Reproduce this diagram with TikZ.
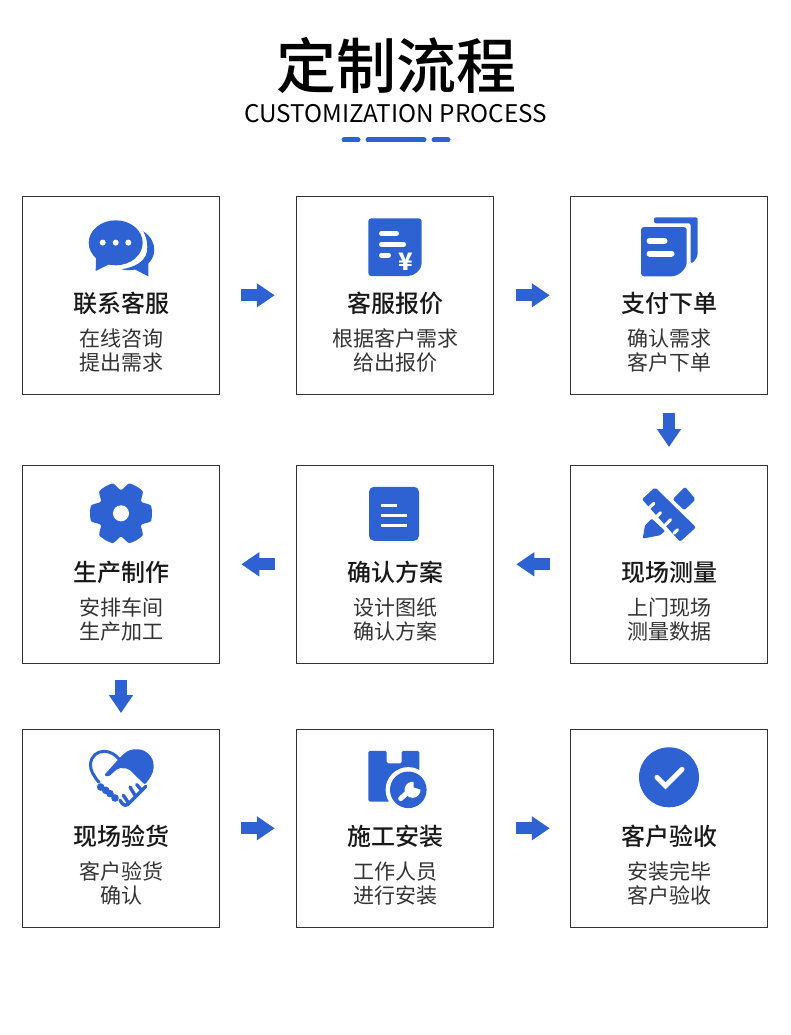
\documentclass[tikz,border=0pt]{standalone}
\usepackage{fontspec}
\setmainfont{Noto Sans CJK SC}
\newfontfamily\medfont{Noto Sans CJK SC Medium}
\usetikzlibrary{arrows.meta}
\definecolor{flowblue}{HTML}{2E62D3}

\begin{document}
\begin{tikzpicture}[x = 1pt, y = -1pt, % pixel grid of the page
                node distance = 274pt, % distance between cards
                declare function = {gearedge(\a) = 23.5 + 7.5*min(1, 1.3*(1 - (0.5 - 0.5*cos(6*\a))^2));}
            ]

            \tikzstyle{cardbox}=[draw = black!80, line width = 1pt, minimum size = 197.5pt, inner sep = 0pt]
            \tikzstyle{cardtitle}=[inner sep = 0pt, font = \fontsize{24pt}{24pt}\selectfont\medfont, text = black!90]
            \tikzstyle{cardline}=[inner sep = 0pt, font = \fontsize{21pt}{21pt}\selectfont, text = black!80]
            \tikzstyle{flowarrow}=[flowblue, line width = 12pt, -{Triangle[length = 18pt, width = 23pt]}]
            \tikzstyle{iconfill}=[fill = flowblue]
            \tikzstyle{iconcut}=[draw = white, line cap = round]
            \tikzstyle{iconline}=[draw = flowblue, line width = 3.4pt, line cap = round, line join = round]
            \tikzstyle{underbar}=[draw = flowblue, line width = 5pt, line cap = round]

            \useasboundingbox (0,0) rectangle (790,1035);

            % heading
            \node (head) [inner sep = 0pt, font = \fontsize{60pt}{60pt}\selectfont\medfont] at (396,65.5) {定制流程};
            \node (sub) [inner sep = 0pt, font = \fontsize{24.3pt}{24.3pt}\selectfont] at (395.5,113.5) {CUSTOMIZATION PROCESS};
            \draw[underbar] (344,140) -- (358,140);
            \draw[underbar] (368,140) -- (424,140);
            \draw[underbar] (434,140) -- (448,140);

            % cards
            \node (1) [cardbox] at (121,295.3) {}; \node (2) [cardbox, right of=1] {}; \node (3) [cardbox, right of=2] {};
            \node (6) [cardbox, below of=3, node distance = 269pt] {}; \node (5) [cardbox, left of=6] {}; \node (4) [cardbox, left of=5] {};
            \node (7) [cardbox, below of=4, node distance = 264pt] {}; \node (8) [cardbox, right of=7] {}; \node (9) [cardbox, right of=8] {};

            % card texts
            \node (1t) [cardtitle, below of=1, node distance = 8.2pt] {联系客服}; \node (1a) [cardline, below of=1, node distance = 43.2pt] {在线咨询}; \node (1b) [cardline, below of=1, node distance = 67.2pt] {提出需求};
            \node (2t) [cardtitle, below of=2, node distance = 8.2pt] {客服报价}; \node (2a) [cardline, below of=2, node distance = 43.2pt] {根据客户需求}; \node (2b) [cardline, below of=2, node distance = 67.2pt] {给出报价};
            \node (3t) [cardtitle, below of=3, node distance = 8.2pt] {支付下单}; \node (3a) [cardline, below of=3, node distance = 43.2pt] {确认需求}; \node (3b) [cardline, below of=3, node distance = 67.2pt] {客户下单};
            \node (4t) [cardtitle, below of=4, node distance = 8.2pt] {生产制作}; \node (4a) [cardline, below of=4, node distance = 43.2pt] {安排车间}; \node (4b) [cardline, below of=4, node distance = 67.2pt] {生产加工};
            \node (5t) [cardtitle, below of=5, node distance = 8.2pt] {确认方案}; \node (5a) [cardline, below of=5, node distance = 43.2pt] {设计图纸}; \node (5b) [cardline, below of=5, node distance = 67.2pt] {确认方案};
            \node (6t) [cardtitle, below of=6, node distance = 8.2pt] {现场测量}; \node (6a) [cardline, below of=6, node distance = 43.2pt] {上门现场}; \node (6b) [cardline, below of=6, node distance = 67.2pt] {测量数据};
            \node (7t) [cardtitle, below of=7, node distance = 8.2pt] {现场验货}; \node (7a) [cardline, below of=7, node distance = 43.2pt] {客户验货}; \node (7b) [cardline, below of=7, node distance = 67.2pt] {确认};
            \node (8t) [cardtitle, below of=8, node distance = 8.2pt] {施工安装}; \node (8a) [cardline, below of=8, node distance = 43.2pt] {工作人员}; \node (8b) [cardline, below of=8, node distance = 67.2pt] {进行安装};
            \node (9t) [cardtitle, below of=9, node distance = 8.2pt] {客户验收}; \node (9a) [cardline, below of=9, node distance = 43.2pt] {安装完毕}; \node (9b) [cardline, below of=9, node distance = 67.2pt] {客户验收};

            % block arrows
            \draw[flowarrow, shorten < = 21pt, shorten > = 21pt] (1) -- (2);
            \draw[flowarrow, shorten < = 22pt, shorten > = 20pt] (2) -- (3);
            \draw[flowarrow, shorten < = 18pt, shorten > = 18pt] (3) -- (6);
            \draw[flowarrow, shorten < = 20pt, shorten > = 22pt] (6) -- (5);
            \draw[flowarrow, shorten < = 21pt, shorten > = 21pt] (5) -- (4);
            \draw[flowarrow, shorten < = 16pt, shorten > = 16pt] (4) -- (7);
            \draw[flowarrow, shorten < = 21pt, shorten > = 21pt] (7) -- (8);
            \draw[flowarrow, shorten < = 22pt, shorten > = 20pt] (8) -- (9);

            % chat icon
            \begin{scope}[shift={(1)}]
                \fill[iconfill] (-5.3,-52.5) ellipse [x radius = 27, y radius = 22.5];
                \fill[iconfill] (-25,-40) -- (-25.3,-24.3) -- (-8,-33) -- cycle;
                \fill[iconfill] (22.3,-64) .. controls (30,-59) and (33.5,-52) .. (33.3,-45) .. controls (33,-39) and (30.5,-35) .. (27.3,-31.7) -- (27.3,-19) -- (14,-25.7) .. controls (9,-25) and (4,-25) .. (0.7,-26) .. controls (7,-27) and (13,-29) .. (17.3,-31.7) .. controls (24,-36) and (27,-42) .. (26.3,-49) .. controls (26,-55) and (25,-59) .. (22.3,-64) -- cycle;
                \fill[white] (-18.3,-52.7) circle (3) (-5.3,-52.7) circle (3) (7.3,-52.7) circle (3);
            \end{scope}

            % quote icon
            \begin{scope}[shift={(2)}]
                \fill[iconfill, rounded corners = 3pt] (-26.7,-77) -- (26.7,-77) -- (26.7,-35) .. controls (26.7,-25) and (19,-19.3) .. (10,-19.3) -- (-26.7,-19.3) -- cycle;
                \draw[iconcut, line width = 5pt] (-13.5,-62) -- (1.5,-62);
                \draw[iconcut, line width = 5pt] (-13.5,-51) -- (8.5,-51);
                \draw[iconcut, line width = 5pt] (-13.5,-40) -- (-6.5,-40);
                \node (2y) [inner sep = 0pt, text = white, font = \fontsize{24pt}{24pt}\selectfont\bfseries] at (11,-34) {¥};
            \end{scope}

            % order icon
            \begin{scope}[shift={(3)}]
                \fill[iconfill, rounded corners = 2pt] (-15,-78) -- (28.7,-78) -- (28.7,-44) .. controls (28.7,-38) and (25,-33.5) .. (21.7,-31.7) -- (21.7,-72) -- (-15,-72) -- cycle;
                \fill[iconfill, rounded corners = 3pt] (-28,-68.3) -- (17.7,-68.3) -- (17.7,-36) .. controls (17.7,-26) and (9,-19) .. (0,-19) -- (-28,-19) -- cycle;
                \draw[iconcut, line width = 6pt] (-19.5,-54.5) -- (-4.5,-54.5);
                \draw[iconcut, line width = 6pt] (-19.5,-41.8) -- (2.5,-41.8);
            \end{scope}

            % gear icon
            \begin{scope}[shift={(4)}]
                \fill[iconfill, shift={(0,-51)}] plot[domain = 0:360, samples = 181, smooth] ({gearedge(\x)*cos(\x)}, {gearedge(\x)*sin(\x)}) -- cycle;
                \fill[white] (0,-51) circle (8);
            \end{scope}

            % plan icon
            \begin{scope}[shift={(5)}]
                \fill[iconfill, rounded corners = 5pt] (-26,-77.5) rectangle (24,-23.5);
                \draw[draw = white, line width = 3pt] (-13.7,-59) -- (2.3,-59);
                \draw[draw = white, line width = 3pt] (-13.7,-49) -- (11.7,-49);
                \draw[draw = white, line width = 3pt] (-13.7,-39) -- (11.7,-39);
            \end{scope}

            % ruler and pencil icon
            \begin{scope}[shift={(6)}]
                \fill[iconfill, rounded corners = 2pt] (-14,-77) -- (27,-37) -- (11,-22.5) -- (-27,-65) -- cycle;
                \fill[iconfill, rounded corners = 2pt] (16,-77.5) -- (26.7,-65) -- (15.3,-54) -- (3.7,-65) -- cycle;
                \fill[iconfill, rounded corners = 1pt] (-17.3,-45.7) -- (-4,-33.3) -- (-9,-29) -- (-26.3,-25.7) -- (-24,-39) -- cycle;
                \draw[iconcut, line width = 3pt] (-20.5,-56) -- (-15,-61);
                \draw[iconcut, line width = 3pt] (-12,-48) -- (-8.5,-51.5);
                \draw[iconcut, line width = 3pt] (-3.5,-39.5) -- (1.5,-44.5);
                \draw[iconcut, line width = 3pt] (5,-31) -- (8.5,-34.5);
            \end{scope}

            % handshake icon
            \begin{scope}[shift={(7)}]
                \draw[iconline, line width = 3pt] (-22,-46) .. controls (-27,-52) and (-31,-58) .. (-30.5,-64) .. controls (-30,-72) and (-24,-77) .. (-17,-77) .. controls (-11,-77) and (-6,-74) .. (-1.7,-69);
                \fill[iconfill, rounded corners = 2pt] (-17,-53) -- (-1.7,-70) .. controls (3,-75) and (8,-79) .. (15,-79) .. controls (25,-79) and (32.5,-71) .. (32.5,-62) .. controls (32.5,-55) and (28,-49) .. (24,-43.5) -- (7.3,-59.7) -- (-2.7,-60.3) -- (-12.7,-51.3) -- cycle;
                \fill[iconfill] (-20.3,-41.3) circle (3.8) (-15.3,-38) circle (3.8) (-11,-34.7) circle (3.8) (-6,-30.3) circle (3.8);
                \draw[iconline] (25,-42) .. controls (18,-35) and (12,-29) .. (7,-24) .. controls (5,-22) and (3,-23) .. (1,-25) -- (-1,-28);
                \draw[iconline] (15.7,-43.7) -- (20.7,-38);
                \draw[iconline] (9,-41.3) -- (14,-33);
                \draw[iconline] (2.3,-33) -- (7.3,-25.7);
            \end{scope}

            % install icon
            \begin{scope}[shift={(8)}]
                \fill[iconfill, rounded corners = 1.5pt] (-26.7,-77.5) -- (-8.3,-77.5) -- (-8.3,-65) -- (6.7,-65) -- (6.7,-77.5) -- (24.3,-77.5) -- (24.3,-26.8) -- (-26.7,-26.8) -- cycle;
                \fill[white] (13.3,-38.5) circle (22.7);
                \fill[iconfill] (13.3,-38.5) circle (18.3);
                \draw[iconcut, line width = 5pt] (5.7,-29.7) -- (16,-39);
                \fill[white] (17.5,-38.5) circle (8);
                \fill[iconfill] (18.5,-41) -- (18.5,-49) -- (27,-49) -- (28,-38) -- cycle;
            \end{scope}

            % check icon
            \begin{scope}[shift={(9)}]
                \fill[iconfill] (0,-51) circle (30);
                \draw[iconcut, line width = 5pt] (-12,-51) -- (-3.5,-42.5) -- (13,-59);
            \end{scope}
\end{tikzpicture}
\end{document}
